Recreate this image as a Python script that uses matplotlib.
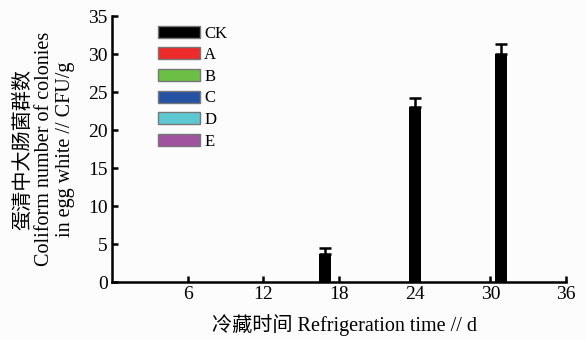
import numpy as np
import matplotlib.pyplot as plt
from matplotlib.patches import Patch

plt.rcParams['font.family'] = ['Liberation Serif', 'Noto Sans CJK SC']

# Datos
series = ["CK", "A", "B", "C", "D", "E"]
colors = ["#000000", "#ee2b2b", "#6cbf45", "#2552a3", "#5ec8d2", "#a0539f"]
days = [16.9, 24.0, 30.85]
ck_vals = [3.7, 23.0, 30.0]
ck_err = [0.85, 1.25, 1.4]
a_vals = [0, 0, 0]
b_vals = [0, 0, 0]
c_vals = [0, 0, 0]
d_vals = [0, 0, 0]
e_vals = [0, 0, 0]
x_ticks = [6, 12, 18, 24, 30, 36]
y_ticks = [0, 5, 10, 15, 20, 25, 30, 35]

fig = plt.figure(figsize=(5.86, 3.40), dpi=100)
fig.patch.set_facecolor("#fcfcfc")
ax = fig.add_axes([0.191, 0.170, 0.775, 0.782])
ax.set_facecolor("#fcfcfc")

w = 0.93
vals = [ck_vals, a_vals, b_vals, c_vals, d_vals, e_vals]
for k, (name, v) in enumerate(zip(series, vals)):
    x = np.array(days) + k * w
    if k == 0:
        ax.bar(x, v, width=w, color=colors[k], linewidth=0, zorder=3)
        ax.errorbar(x, v, yerr=[np.zeros(3), ck_err], fmt="none", ecolor="black",
                    elinewidth=1.8, capsize=4.5, capthick=1.8, zorder=3)
    else:
        ax.bar(x, v, width=w, color=colors[k], linewidth=0, zorder=2)

ax.set_xlim(0, 36)
ax.set_ylim(0, 35)
ax.set_xticks(x_ticks)
ax.set_yticks(y_ticks)
ax.spines["top"].set_visible(False)
ax.spines["right"].set_visible(False)
for s in ["left", "bottom"]:
    ax.spines[s].set_linewidth(1.8)
ax.tick_params(direction="in", length=4, width=1.8, labelsize=14, pad=3)

ax.set_xlabel("冷藏时间 Refrigeration time // d", fontsize=14.5)
ax.xaxis.set_label_coords(0.513, -0.16)
ax.xaxis.label.set_va("center")
ax.set_ylabel("蛋清中大肠菌群数\nColiform number of colonies\nin egg white // CFU/g",
              fontsize=14.5, linespacing=1.15)
ax.yaxis.set_label_coords(-0.148, 0.5)
ax.yaxis.label.set_va("center")

handles = [Patch(facecolor=c, edgecolor="#777777", linewidth=1) for c in colors]
fig.legend(handles, series, loc="upper left", bbox_to_anchor=(0.27, 0.925),
           frameon=False, fontsize=12, handlelength=2.5, handleheight=0.72,
           labelspacing=0.34, handletextpad=0.25, borderpad=0, borderaxespad=0)

plt.savefig("out.png", dpi=100, facecolor=fig.get_facecolor())
